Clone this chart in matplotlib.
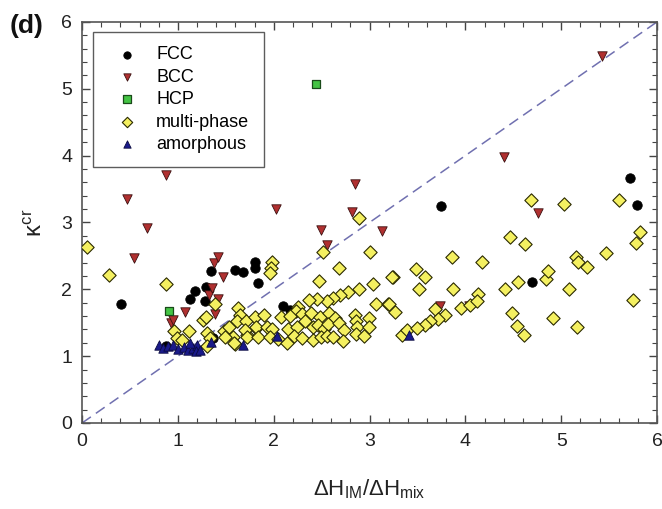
import matplotlib
matplotlib.use("Agg")
import matplotlib.pyplot as plt
from matplotlib.ticker import MultipleLocator

plt.rcParams['font.family'] = ['Liberation Sans', 'DejaVu Sans']
plt.rcParams['mathtext.fontset'] = 'custom'
plt.rcParams['mathtext.rm'] = 'Liberation Sans'
plt.rcParams['mathtext.it'] = 'Liberation Sans'

fcc_x = [0.41, 0.88, 1.13, 1.18, 1.28, 1.29, 1.35, 1.37, 1.60, 1.68, 1.80, 1.80, 1.84, 2.10, 2.17, 3.75, 4.69, 5.72, 5.79]
fcc_y = [1.78, 1.15, 1.86, 1.98, 1.83, 2.04, 2.27, 1.27, 2.29, 2.26, 2.41, 2.32, 2.09, 1.75, 1.69, 3.25, 2.11, 3.66, 3.26]

bcc_x = [0.47, 0.54, 0.68, 0.88, 0.93, 0.95, 1.07, 1.32, 1.36, 1.38, 1.39, 1.42, 1.42, 1.47, 2.02, 2.49, 2.56, 2.82, 2.85, 3.13, 3.73, 4.04, 4.40, 4.76, 5.43]
bcc_y = [3.35, 2.47, 2.92, 3.71, 1.50, 1.54, 1.66, 1.92, 2.02, 2.40, 1.63, 2.49, 1.86, 2.19, 3.20, 2.89, 2.66, 3.16, 3.58, 2.87, 1.75, 1.75, 3.98, 3.14, 5.49]

hcp_x = [0.91, 2.44]
hcp_y = [1.68, 5.07]

multi_x = [0.05, 0.28, 0.88, 0.96, 1.12, 0.99, 1.04, 1.26, 1.29, 1.30, 1.34, 1.30, 1.39, 1.48, 1.53, 1.57, 1.60, 1.63, 1.65, 1.62, 1.71, 1.72, 1.81, 1.49, 1.59, 1.70, 1.72,
           1.98, 1.97, 1.96,
           2.51, 2.68, 2.47, 3.00, 3.04, 3.24, 2.89, 2.78, 2.69, 2.62, 2.56, 2.45, 2.37, 3.07, 3.19, 3.27, 2.25, 2.23, 2.89,
           1.80, 1.90, 2.08, 2.17, 2.29, 2.39, 2.48, 2.58, 2.64, 2.85, 2.86, 2.99,
           1.82, 1.93, 1.98, 2.15, 2.24, 2.33, 2.41, 2.46, 2.52, 2.57, 2.68, 2.73, 2.87, 2.99,
           1.84, 1.96, 2.04, 2.14, 2.21, 2.30, 2.41, 2.49, 2.56, 2.62, 2.72, 2.86, 2.94, 3.34, 3.39,
           4.68, 5.03, 5.60, 5.82, 5.78, 4.47, 4.62, 3.86, 4.17, 3.48, 3.58, 3.23, 3.52, 3.87, 4.13, 3.20,
           3.95, 4.05, 4.12, 3.68, 3.79, 3.71, 3.63, 3.58, 3.49, 4.41, 4.55, 4.84, 4.86, 5.15, 5.17, 5.27,
           5.47, 5.08, 5.75, 4.49, 4.54, 4.61, 4.91, 5.16]
multi_y = [2.63, 2.22, 2.08, 1.37, 1.38, 1.27, 1.24, 1.54, 1.58, 1.34, 1.27, 1.15, 1.78, 1.37, 1.44, 1.28, 1.18, 1.72, 1.62, 1.52, 1.53, 1.32, 1.42, 1.29, 1.20, 1.39, 1.29,
           2.41, 2.32, 2.25,
           2.56, 2.32, 2.13, 2.56, 2.08, 2.19, 2.01, 1.96, 1.92, 1.87, 1.83, 1.86, 1.84, 1.78, 1.78, 1.66, 1.74, 1.68, 3.06,
           1.58, 1.62, 1.58, 1.60, 1.63, 1.65, 1.58, 1.65, 1.57, 1.62, 1.53, 1.57,
           1.43, 1.44, 1.40, 1.40, 1.44, 1.52, 1.43, 1.47, 1.40, 1.48, 1.49, 1.39, 1.44, 1.44,
           1.29, 1.28, 1.25, 1.20, 1.30, 1.27, 1.24, 1.29, 1.30, 1.28, 1.23, 1.33, 1.30, 1.32, 1.39,
           3.33, 3.28, 3.33, 2.85, 2.69, 2.78, 2.68, 2.49, 2.41, 2.30, 2.19, 2.18, 2.01, 2.01, 1.93, 1.78,
           1.72, 1.77, 1.83, 1.71, 1.62, 1.55, 1.52, 1.47, 1.42, 2.01, 2.11, 2.15, 2.28, 2.49, 2.41, 2.33,
           2.55, 2.01, 1.84, 1.65, 1.45, 1.31, 1.57, 1.43]

amor_x = [0.80, 0.84, 0.90, 0.95, 1.00, 1.06, 1.11, 1.16, 1.20, 1.19, 1.13, 1.23, 1.35, 1.68, 2.03, 3.41]
amor_y = [1.17, 1.12, 1.15, 1.17, 1.10, 1.14, 1.09, 1.12, 1.17, 1.08, 1.20, 1.09, 1.21, 1.17, 1.30, 1.32]

fig = plt.figure(figsize=(6.62, 5.09), dpi=100)
ax = fig.add_axes([0.124, 0.169, 0.8685, 0.788])

ax.plot([0, 6], [0, 6], ls=(0, (7, 4)), color='#7070b0', lw=1.1, zorder=1)

ms = 46
ax.scatter(fcc_x, fcc_y, s=ms, marker='o', c='black', edgecolors='black', linewidths=0.6, label='FCC', zorder=3)
ax.scatter(bcc_x, bcc_y, s=ms, marker='v', c='#b03030', edgecolors='#3a1010', linewidths=0.6, label='BCC', zorder=3)
ax.scatter(hcp_x, hcp_y, s=34, marker='s', c='#44c444', edgecolors='#1a4a1a', linewidths=0.9, label='HCP', zorder=3)
ax.scatter(multi_x, multi_y, s=ms, marker='D', c='#f4f060', edgecolors='#2a2a00', linewidths=0.8, label='multi-phase', zorder=3)
ax.scatter(amor_x, amor_y, s=ms, marker='^', c='#1a1a8a', edgecolors='#0a0a40', linewidths=0.6, label='amorphous', zorder=3)

ax.set_xlim(0, 6)
ax.set_ylim(0, 6)
ax.xaxis.set_major_locator(MultipleLocator(1))
ax.yaxis.set_major_locator(MultipleLocator(1))
ax.xaxis.set_minor_locator(MultipleLocator(0.2))
ax.yaxis.set_minor_locator(MultipleLocator(0.2))
ax.tick_params(which='both', direction='in', top=True, right=True, colors='#444444', labelcolor='#222222')
ax.tick_params(which='major', length=6, width=1, labelsize=14, pad=7)
ax.tick_params(which='minor', length=3.5, width=0.8)
for s in ax.spines.values():
    s.set_color('#555555')
    s.set_linewidth(1.2)

ax.set_xlabel(r'$\Delta$H$_{\mathrm{IM}}$/$\Delta$H$_{\mathrm{mix}}$', fontsize=16, labelpad=20, color='#222222')
ax.set_ylabel(r'$\kappa^{\mathrm{cr}}$', fontsize=17, labelpad=10, color='#222222')

leg = ax.legend(loc='upper left', bbox_to_anchor=(0.019, 0.975), borderaxespad=0, fontsize=13,
                frameon=True, fancybox=False, edgecolor='#333333', labelspacing=0.3,
                handletextpad=0.5, borderpad=0.8, handlelength=2.2, scatterpoints=1)
leg.get_frame().set_linewidth(1.0)
for h in leg.legend_handles:
    h.set_sizes([28])

fig.text(0.015, 0.935, '(d)', fontsize=19, fontweight='bold', color='#111111')

fig.savefig('out.png', dpi=100)
